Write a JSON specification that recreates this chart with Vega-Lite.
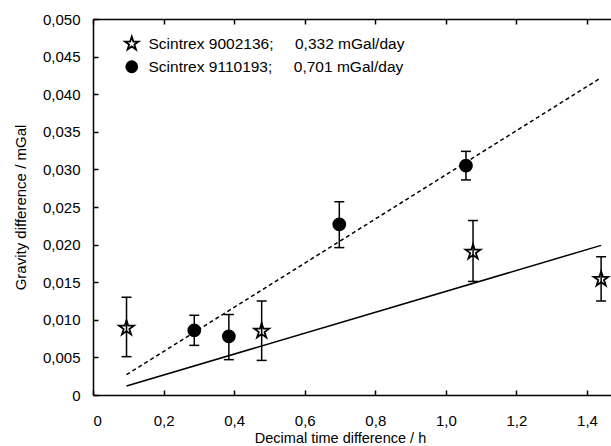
{
  "$schema": "https://vega.github.io/schema/vega-lite/v6.json",
  "width": 518,
  "height": 376,
  "autosize": {"type": "none"},
  "padding": {"left": 93, "top": 19, "right": 0, "bottom": 51},
  "background": "white",
  "config": {
    "view": {"stroke": null},
    "font": "Liberation Sans",
    "axis": {
      "grid": false,
      "domainColor": "black",
      "domainWidth": 1.5,
      "ticks": true,
      "tickColor": "black",
      "tickWidth": 1.5,
      "tickSize": -5,
      "labelFontSize": 15,
      "labelColor": "black",
      "labelFont": "Liberation Sans",
      "titleFont": "Liberation Sans",
      "titleFontSize": 15,
      "titleFontWeight": "normal",
      "titleColor": "black"
    },
    "legend": {
      "labelFontSize": 15.5,
      "labelFont": "Liberation Sans",
      "labelColor": "black",
      "labelLimit": 400
    }
  },
  "datasets": {
    "points": [
      {"series": "Scintrex 9002136;\u00a0\u00a0\u00a0\u00a0 0,332 mGal/day", "x": 0.095, "y": 0.0089, "lo": 0.0051, "hi": 0.0130},
      {"series": "Scintrex 9002136;\u00a0\u00a0\u00a0\u00a0 0,332 mGal/day", "x": 0.478, "y": 0.0085, "lo": 0.0046, "hi": 0.0125},
      {"series": "Scintrex 9002136;\u00a0\u00a0\u00a0\u00a0 0,332 mGal/day", "x": 1.077, "y": 0.0190, "lo": 0.0151, "hi": 0.0232},
      {"series": "Scintrex 9002136;\u00a0\u00a0\u00a0\u00a0 0,332 mGal/day", "x": 1.440, "y": 0.0154, "lo": 0.0125, "hi": 0.0184},
      {"series": "Scintrex 9110193;\u00a0\u00a0\u00a0\u00a0 0,701 mGal/day", "x": 0.287, "y": 0.0086, "lo": 0.0066, "hi": 0.0106},
      {"series": "Scintrex 9110193;\u00a0\u00a0\u00a0\u00a0 0,701 mGal/day", "x": 0.385, "y": 0.0078, "lo": 0.0047, "hi": 0.0107},
      {"series": "Scintrex 9110193;\u00a0\u00a0\u00a0\u00a0 0,701 mGal/day", "x": 0.698, "y": 0.0227, "lo": 0.0196, "hi": 0.0257},
      {"series": "Scintrex 9110193;\u00a0\u00a0\u00a0\u00a0 0,701 mGal/day", "x": 1.057, "y": 0.0305, "lo": 0.0286, "hi": 0.0324}
    ],
    "solid": [
      {"x": 0.095, "y": 0.0012},
      {"x": 1.44, "y": 0.0199}
    ],
    "dashed": [
      {"x": 0.095, "y": 0.0027},
      {"x": 1.44, "y": 0.0422}
    ]
  },
  "layer": [
    {
      "data": {"name": "solid"},
      "mark": {"type": "line", "color": "black", "strokeWidth": 1.5},
      "encoding": {
        "x": {
          "field": "x", "type": "quantitative",
          "scale": {"domain": [0, 1.468], "nice": false, "zero": false},
          "axis": {
            "orient": "bottom",
            "values": [0, 0.2, 0.4, 0.6, 0.8, 1.0, 1.2, 1.4],
            "labelExpr": "datum.value == 0 ? '0' : replace(format(datum.value, '.1f'), '.', ',')",
            "labelPadding": 23,
            "tickSize": -5,
            "title": "Decimal time difference / h",
            "titleFontSize": 14.5,
            "titleX": 247,
            "titleY": 36.5
          }
        },
        "y": {
          "field": "y", "type": "quantitative",
          "scale": {"domain": [0, 0.05], "nice": false},
          "axis": {
            "values": [0, 0.005, 0.01, 0.015, 0.02, 0.025, 0.03, 0.035, 0.04, 0.045, 0.05],
            "labelExpr": "datum.value == 0 ? '0' : replace(format(datum.value, '.3f'), '.', ',')",
            "labelPadding": 18,
            "tickSize": -5,
            "labelOverlap": false,
            "title": "Gravity difference / mGal",
            "titlePadding": 14
          }
        }
      }
    },
    {
      "data": {"name": "dashed"},
      "mark": {"type": "line", "color": "black", "strokeWidth": 1.5, "strokeDash": [4, 3]},
      "encoding": {
        "x": {
          "field": "x", "type": "quantitative",
          "axis": {
            "orient": "top",
            "values": [0, 0.2, 0.4, 0.6, 0.8, 1.0, 1.2, 1.4],
            "labels": false,
            "ticks": true,
            "tickSize": -5,
            "title": null
          }
        },
        "y": {"field": "y", "type": "quantitative", "axis": null}
      }
    },
    {
      "data": {"name": "points"},
      "mark": {"type": "point", "filled": true, "opacity": 1, "stroke": "black", "strokeWidth": 1.8, "size": 144},
      "encoding": {
        "x": {"field": "x", "type": "quantitative", "axis": null},
        "y": {"field": "y", "type": "quantitative", "axis": null},
        "shape": {
          "field": "series", "type": "nominal",
          "scale": {"range": ["M0,-1.3L0.2919,-0.4017L1.2364,-0.4017L0.4723,0.1534L0.7641,1.0517L0,0.4966L-0.7641,1.0517L-0.4723,0.1534L-1.2364,-0.4017L-0.2919,-0.4017Z", "circle"]},
          "legend": {
            "title": null, "orient": "none", "legendX": 31, "legendY": 17, "padding": 0,
            "labelOffset": 9, "rowPadding": 3, "symbolSize": 120,
            "symbolStrokeColor": "black", "symbolStrokeWidth": 1.5,
            "symbolOpacity": 1,
            "encode": {"symbols": {"update": {"stroke": {"value": "black"}, "strokeWidth": {"value": 1.8}, "opacity": {"value": 1}}}}
          }
        },
        "fill": {
          "field": "series", "type": "nominal",
          "scale": {"range": ["white", "black"]},
          "legend": {
            "title": null, "orient": "none", "legendX": 31, "legendY": 17, "padding": 0,
            "labelOffset": 9, "rowPadding": 3, "symbolSize": 120,
            "symbolStrokeColor": "black", "symbolStrokeWidth": 1.5,
            "symbolOpacity": 1,
            "encode": {"symbols": {"update": {"stroke": {"value": "black"}, "strokeWidth": {"value": 1.8}, "opacity": {"value": 1}}}}
          }
        }
      }
    },
    {
      "data": {"name": "points"},
      "mark": {"type": "rule", "color": "black", "strokeWidth": 1.5},
      "encoding": {
        "x": {"field": "x", "type": "quantitative", "axis": null},
        "y": {"field": "lo", "type": "quantitative", "axis": null},
        "y2": {"field": "hi"}
      }
    },
    {
      "data": {"name": "points"},
      "mark": {"type": "tick", "orient": "horizontal", "color": "black", "size": 10, "thickness": 1.5, "opacity": 1},
      "encoding": {
        "x": {"field": "x", "type": "quantitative", "axis": null},
        "y": {"field": "lo", "type": "quantitative", "axis": null}
      }
    },
    {
      "data": {"name": "points"},
      "mark": {"type": "tick", "orient": "horizontal", "color": "black", "size": 10, "thickness": 1.5, "opacity": 1},
      "encoding": {
        "x": {"field": "x", "type": "quantitative", "axis": null},
        "y": {"field": "hi", "type": "quantitative", "axis": null}
      }
    }
  ],
  "resolve": {"axis": {"x": "independent", "y": "independent"}}
}
